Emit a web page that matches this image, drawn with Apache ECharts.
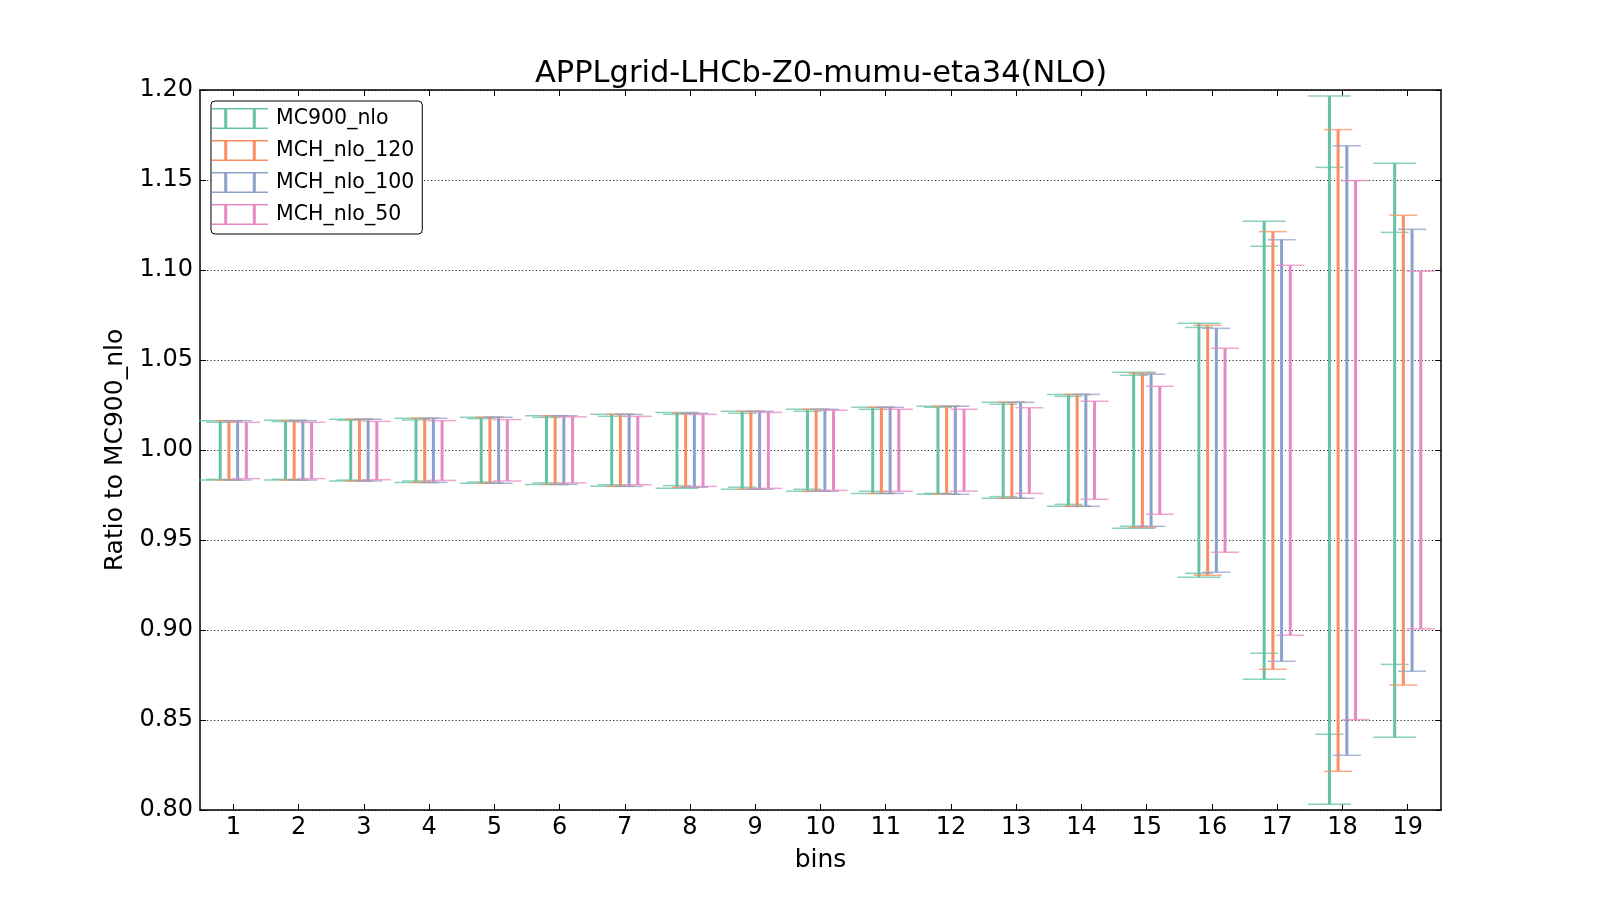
<!DOCTYPE html>
<html>
<head>
<meta charset="utf-8">
<script src="https://cdn.jsdelivr.net/npm/echarts@6/dist/echarts.min.js"></script>
<style>html,body{margin:0;padding:0;background:#fff}#c{width:1600px;height:900px}</style>
</head>
<body>
<div id="c"></div>
<script>
// ---- data ----
const bins = [1,2,3,4,5,6,7,8,9,10,11,12,13,14,15,16,17,18,19];
const seriesNames = ['MC900_nlo', 'MCH_nlo_120', 'MCH_nlo_100', 'MCH_nlo_50'];

// MC900_nlo: inner error bar (narrow caps) and outer error bar (wide caps)
const mc900High      = [1.0154,1.0158,1.0165,1.0167,1.0174,1.0181,1.0187,1.0198,1.0204,1.0215,1.0226,1.0237,1.0254,1.0298,1.0415,1.0681,1.1132,1.1570,1.1209];
const mc900Low       = [0.9837,0.9837,0.9833,0.9828,0.9822,0.9817,0.9807,0.9802,0.9793,0.9782,0.9771,0.9759,0.9741,0.9698,0.9576,0.9315,0.8871,0.8421,0.8809];
const mc900OuterHigh = [1.0163,1.0165,1.0171,1.0176,1.0182,1.0190,1.0198,1.0209,1.0215,1.0226,1.0237,1.0243,1.0265,1.0309,1.0432,1.0704,1.1271,1.1967,1.1593];
const mc900OuterLow  = [0.9833,0.9833,0.9828,0.9820,0.9815,0.9809,0.9798,0.9787,0.9782,0.9771,0.9759,0.9754,0.9732,0.9687,0.9565,0.9293,0.8726,0.8032,0.8404];

const mch120High = [1.0163,1.0163,1.0171,1.0176,1.0182,1.0190,1.0198,1.0204,1.0215,1.0226,1.0237,1.0243,1.0265,1.0309,1.0426,1.0693,1.1213,1.1780,1.1304];
const mch120Low  = [0.9833,0.9833,0.9828,0.9820,0.9815,0.9809,0.9798,0.9793,0.9782,0.9771,0.9759,0.9754,0.9732,0.9687,0.9570,0.9304,0.8782,0.8215,0.8694];

const mch100High = [1.0163,1.0163,1.0171,1.0176,1.0182,1.0190,1.0198,1.0204,1.0215,1.0226,1.0237,1.0243,1.0265,1.0309,1.0421,1.0676,1.1168,1.1690,1.1226];
const mch100Low  = [0.9833,0.9833,0.9828,0.9820,0.9815,0.9809,0.9798,0.9793,0.9782,0.9771,0.9759,0.9754,0.9732,0.9687,0.9576,0.9321,0.8826,0.8304,0.8771];

const mch50High = [1.0154,1.0154,1.0159,1.0163,1.0169,1.0184,1.0187,1.0198,1.0209,1.0221,1.0226,1.0226,1.0235,1.0271,1.0354,1.0565,1.1026,1.1497,1.0993];
const mch50Low  = [0.9841,0.9841,0.9835,0.9831,0.9828,0.9817,0.9807,0.9798,0.9787,0.9776,0.9771,0.9771,0.9759,0.9726,0.9643,0.9432,0.8971,0.8502,0.9006];

const yTicks = [0.80,0.85,0.90,0.95,1.00,1.05,1.10,1.15,1.20];

// ---- styling ----
const colors = ['#66c2a5', '#fc8d62', '#8da0cb', '#e78ac3'];
const offsets = [-0.2, -0.0667, 0.0667, 0.2];
const FONT = 'DejaVu Sans';

function makeRender(idx, color, hasOuter) {
  return function (params, api) {
    const x = api.value(0) + offsets[idx];
    const top = api.coord([x, api.value(1)]);
    const bot = api.coord([x, api.value(2)]);
    const px = top[0];
    let yTop = top[1], yBot = bot[1];
    const children = [];
    let oTop = null, oBot = null;
    if (hasOuter) {
      oTop = api.coord([x, api.value(3)])[1];
      oBot = api.coord([x, api.value(4)])[1];
      yTop = Math.min(yTop, oTop);
      yBot = Math.max(yBot, oBot);
    }
    children.push({type: 'line', shape: {x1: px, y1: yTop, x2: px, y2: yBot},
      style: {stroke: color, lineWidth: 3}});
    const capStyle = {stroke: color, lineWidth: 1.5, opacity: 0.75};
    const hw = 14;
    children.push({type: 'line', shape: {x1: px - hw, y1: top[1], x2: px + hw, y2: top[1]}, style: capStyle});
    children.push({type: 'line', shape: {x1: px - hw, y1: bot[1], x2: px + hw, y2: bot[1]}, style: capStyle});
    if (hasOuter) {
      const ow = 21.5;
      children.push({type: 'line', shape: {x1: px - ow, y1: oTop, x2: px + ow, y2: oTop}, style: capStyle});
      children.push({type: 'line', shape: {x1: px - ow, y1: oBot, x2: px + ow, y2: oBot}, style: capStyle});
    }
    return {type: 'group', children: children};
  };
}

const seriesData = [
  bins.map((b, i) => [b, mc900High[i], mc900Low[i], mc900OuterHigh[i], mc900OuterLow[i]]),
  bins.map((b, i) => [b, mch120High[i], mch120Low[i]]),
  bins.map((b, i) => [b, mch100High[i], mch100Low[i]]),
  bins.map((b, i) => [b, mch50High[i], mch50Low[i]])
];

const legendIcon = 'path://M0,0H56V1.5H0Z M12.2,0H15.2V21H12.2Z M40.8,0H43.8V21H40.8Z M0,19.5H56V21H0Z';

const chart = echarts.init(document.getElementById('c'), null, {renderer: 'canvas'});
const xCommon = {
  type: 'value', min: 0.49, max: 19.51,
  splitLine: {show: false},
  axisLine: {show: true, onZero: false, lineStyle: {color: '#000', width: 1.5}},
  axisTick: {show: true, inside: true, length: 6, customValues: bins, lineStyle: {color: '#000', width: 1}}
};
const yCommon = {
  type: 'value', min: 0.8, max: 1.2, interval: 0.05,
  axisLine: {show: true, onZero: false, lineStyle: {color: '#000', width: 1.5}},
  axisTick: {show: true, inside: true, length: 6, lineStyle: {color: '#000', width: 1}}
};

chart.setOption({
  backgroundColor: '#fff',
  animation: false,
  title: {
    text: 'APPLgrid-LHCb-Z0-mumu-eta34(NLO)',
    left: 816, textAlign: 'center', top: 54,
    textStyle: {fontFamily: FONT, fontSize: 30.5, fontWeight: 'normal', color: '#000'}
  },
  grid: {left: 200, top: 90, width: 1241, height: 720, containLabel: false},
  legend: {
    left: 211, top: 101, orient: 'vertical',
    padding: [7, 8, 9, 1],
    itemWidth: 56, itemHeight: 21, itemGap: 11,
    borderColor: '#000', borderWidth: 1, borderRadius: 4,
    backgroundColor: '#fff',
    textStyle: {fontFamily: FONT, fontSize: 20.5, color: '#000', padding: [0, 0, 0, 3]},
    data: seriesNames.map(n => ({name: n, icon: legendIcon}))
  },
  xAxis: [
    Object.assign({}, xCommon, {
      position: 'bottom',
      name: 'bins', nameLocation: 'middle', nameGap: 38,
      nameTextStyle: {fontFamily: FONT, fontSize: 25, color: '#000'},
      axisLabel: {show: true, customValues: bins, margin: 6, fontFamily: FONT, fontSize: 24, color: '#000'}
    }),
    Object.assign({}, xCommon, {position: 'top', axisLabel: {show: false}})
  ],
  yAxis: [
    Object.assign({}, yCommon, {
      position: 'left',
      name: 'Ratio to MC900_nlo', nameLocation: 'middle', nameGap: 72,
      nameTextStyle: {fontFamily: FONT, fontSize: 25, color: '#000'},
      axisLabel: {show: true, margin: 7, fontFamily: FONT, fontSize: 24, color: '#000',
        formatter: v => v.toFixed(2)},
      splitLine: {show: true, lineStyle: {color: '#222', width: 1, type: [1.2, 2.3]}}
    }),
    Object.assign({}, yCommon, {position: 'right', axisLabel: {show: false}, splitLine: {show: false}})
  ],
  series: seriesNames.map((name, i) => ({
    name: name,
    type: 'custom',
    xAxisIndex: 0, yAxisIndex: 0,
    itemStyle: {color: colors[i]},
    renderItem: makeRender(i, colors[i], i === 0),
    encode: {x: 0, y: i === 0 ? [1, 2, 3, 4] : [1, 2]},
    data: seriesData[i],
    z: 2 + i
  }))
});
</script>
</body>
</html>
